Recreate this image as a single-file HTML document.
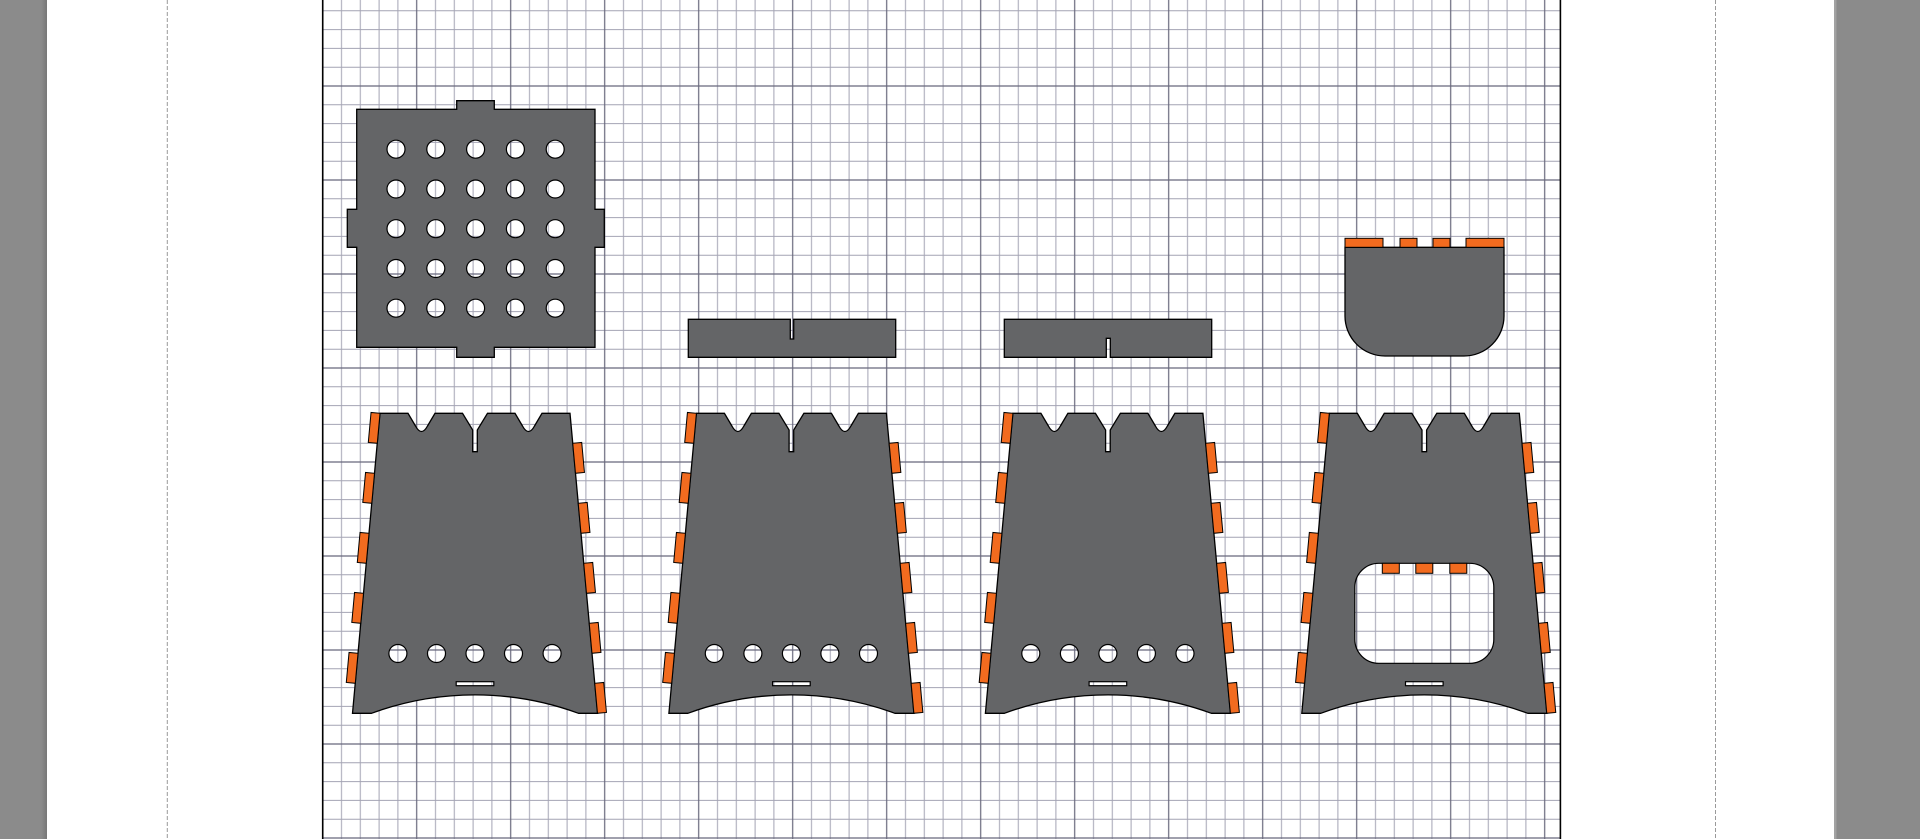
<!DOCTYPE html>
<html>
<head>
<meta charset="utf-8">
<style>
html,body{margin:0;padding:0;background:#fff;overflow:hidden;}
svg{display:block}
</style>
</head>
<body>
<svg width="1920" height="839" viewBox="0 0 1920 839" xmlns="http://www.w3.org/2000/svg">
<defs>
  <pattern id="g" patternUnits="userSpaceOnUse" x="275.7" y="-55" width="94" height="94">
    <rect width="94" height="94" fill="#fff"/>
    <path d="M9.4 0V94M28.2 0V94M65.8 0V94M84.6 0V94M0 9.4H94M0 28.2H94M0 65.8H94M0 84.6H94" stroke="#a4a4b4" stroke-width="1" fill="none"/>
    <path d="M47 0V94M0 47H94" stroke="#68687c" stroke-width="1.2" fill="none"/>
  </pattern>
  <linearGradient id="lb" x1="0" y1="0" x2="1" y2="0">
    <stop offset="0" stop-color="#8b8b8b"/>
    <stop offset="0.88" stop-color="#8b8b8b"/>
    <stop offset="1" stop-color="#777"/>
  </linearGradient>
  <path id="pn" fill="#646567" stroke="#000" stroke-width="1.3" stroke-linejoin="miter"
    d="M-95 413.3H-67L-59.5 426Q-53.5 437 -47.5 426L-40 413.3H-12.5L-2.3 430V451.7H2.3V430L12.5 413.3H40L47.5 426Q53.5 437 59.5 426L67 413.3H95L122.5 713.3H103.5A300 300 0 0 0 -103.5 713.3H-122.5Z"/>
  <path id="tb" fill="#f26b1f" stroke="#000" stroke-width="1"
    d="M-95 413.3L-97.75 443.3L-106.71 442.48L-103.96 412.48Z
       M-100.5 473.3L-103.25 503.3L-112.21 502.48L-109.46 472.48Z
       M-106 533.3L-108.75 563.3L-117.71 562.48L-114.96 532.48Z
       M-111.5 593.3L-114.25 623.3L-123.21 622.48L-120.46 592.48Z
       M-117 653.3L-119.75 683.3L-128.71 682.48L-125.96 652.48Z
       M97.75 443.3L100.5 473.3L109.46 472.48L106.71 442.48Z
       M103.25 503.3L106 533.3L114.96 532.48L112.21 502.48Z
       M108.75 563.3L111.5 593.3L120.46 592.48L117.71 562.48Z
       M114.25 623.3L117 653.3L125.96 652.48L123.21 622.48Z
       M119.75 683.3L122.5 713.3L131.46 712.48L128.71 682.48Z"/>
</defs>

<!-- page background -->
<rect x="0" y="0" width="1920" height="839" fill="#fff"/>
<rect x="0" y="0" width="47" height="839" fill="url(#lb)"/>
<rect x="1834" y="0" width="86" height="839" fill="#8b8b8b"/>
<rect x="1834" y="0" width="2.5" height="839" fill="#a2a2a2"/>

<!-- dashed margin lines -->
<line x1="167.3" y1="0" x2="167.3" y2="839" stroke="#9a9a9a" stroke-width="1" stroke-dasharray="4 2"/>
<line x1="1715.5" y1="0" x2="1715.5" y2="839" stroke="#9a9a9a" stroke-width="1" stroke-dasharray="4 2"/>

<!-- grid -->
<rect x="322.7" y="0" width="1237.7" height="839" fill="url(#g)"/>
<line x1="322.7" y1="0" x2="322.7" y2="839" stroke="#000" stroke-width="1.6"/>
<line x1="1560.4" y1="0" x2="1560.4" y2="839" stroke="#000" stroke-width="1.6"/>

<!-- square plate -->
<path fill="#646567" stroke="#000" stroke-width="1.3"
  d="M356.7 109.3H456.7V100.7H494.3V109.3H595V209.3H604.3V247.3H595V347.3H494.3V357.3H456.7V347.3H356.7V247.3H347.3V209.3H356.7Z"/>
<g fill="url(#g)" stroke="#000" stroke-width="1.2">
  <circle cx="396" cy="149.2" r="9"/><circle cx="435.8" cy="149.2" r="9"/><circle cx="475.6" cy="149.2" r="9"/><circle cx="515.4" cy="149.2" r="9"/><circle cx="555.2" cy="149.2" r="9"/>
  <circle cx="396" cy="189" r="9"/><circle cx="435.8" cy="189" r="9"/><circle cx="475.6" cy="189" r="9"/><circle cx="515.4" cy="189" r="9"/><circle cx="555.2" cy="189" r="9"/>
  <circle cx="396" cy="228.7" r="9"/><circle cx="435.8" cy="228.7" r="9"/><circle cx="475.6" cy="228.7" r="9"/><circle cx="515.4" cy="228.7" r="9"/><circle cx="555.2" cy="228.7" r="9"/>
  <circle cx="396" cy="268.5" r="9"/><circle cx="435.8" cy="268.5" r="9"/><circle cx="475.6" cy="268.5" r="9"/><circle cx="515.4" cy="268.5" r="9"/><circle cx="555.2" cy="268.5" r="9"/>
  <circle cx="396" cy="308.2" r="9"/><circle cx="435.8" cy="308.2" r="9"/><circle cx="475.6" cy="308.2" r="9"/><circle cx="515.4" cy="308.2" r="9"/><circle cx="555.2" cy="308.2" r="9"/>
</g>

<!-- slotted bars -->
<path fill="#646567" stroke="#000" stroke-width="1.3"
  d="M688.3 319.3H790.3V339H793.7V319.3H895.7V357.3H688.3Z"/>
<path fill="#646567" stroke="#000" stroke-width="1.3"
  d="M1004.3 319.3H1211.7V357.3H1110.3V338.3H1106.3V357.3H1004.3Z"/>

<!-- top right piece -->
<g transform="translate(1424.5 0)">
  <path fill="#646567" stroke="#000" stroke-width="1.3"
    d="M-79.5 247.3H79.5V316A40 40 0 0 1 39.5 356H-39.5A40 40 0 0 1 -79.5 316Z"/>
  <g fill="#f26b1f" stroke="#000" stroke-width="1">
    <rect x="-79.5" y="238.3" width="38" height="9"/>
    <rect x="-24.5" y="238.3" width="17" height="9"/>
    <rect x="8.5" y="238.3" width="17" height="9"/>
    <rect x="41.5" y="238.3" width="38" height="9"/>
  </g>
</g>

<!-- panels -->
<g transform="translate(475 0)"><use href="#pn"/><use href="#tb"/></g>
<g transform="translate(791.4 0)"><use href="#pn"/><use href="#tb"/></g>
<g transform="translate(1107.9 0)"><use href="#pn"/><use href="#tb"/></g>
<g transform="translate(1424.3 0)"><use href="#pn"/><use href="#tb"/></g>

<!-- panel holes (absolute coords so grid aligns) -->
<g fill="url(#g)" stroke="#000" stroke-width="1.2">
  <circle cx="397.9" cy="653.5" r="9"/><circle cx="436.5" cy="653.5" r="9"/><circle cx="475" cy="653.5" r="9"/><circle cx="513.5" cy="653.5" r="9"/><circle cx="552.1" cy="653.5" r="9"/>
  <rect x="456.2" y="681.7" width="37.6" height="4"/>
  <circle cx="714.3" cy="653.5" r="9"/><circle cx="752.9" cy="653.5" r="9"/><circle cx="791.4" cy="653.5" r="9"/><circle cx="829.9" cy="653.5" r="9"/><circle cx="868.5" cy="653.5" r="9"/>
  <rect x="772.6" y="681.7" width="37.6" height="4"/>
  <circle cx="1030.8" cy="653.5" r="9"/><circle cx="1069.4" cy="653.5" r="9"/><circle cx="1107.9" cy="653.5" r="9"/><circle cx="1146.4" cy="653.5" r="9"/><circle cx="1185" cy="653.5" r="9"/>
  <rect x="1089.1" y="681.7" width="37.6" height="4"/>
  <rect x="1354.8" y="563.3" width="139" height="100" rx="24" ry="24"/>
  <rect x="1405.5" y="681.7" width="37.6" height="4"/>
</g>
<g fill="#f26b1f" stroke="#000" stroke-width="1">
  <rect x="1382.3" y="563.3" width="17" height="10"/>
  <rect x="1415.8" y="563.3" width="17" height="10"/>
  <rect x="1449.8" y="563.3" width="17" height="10"/>
</g>
</svg>
</body>
</html>
